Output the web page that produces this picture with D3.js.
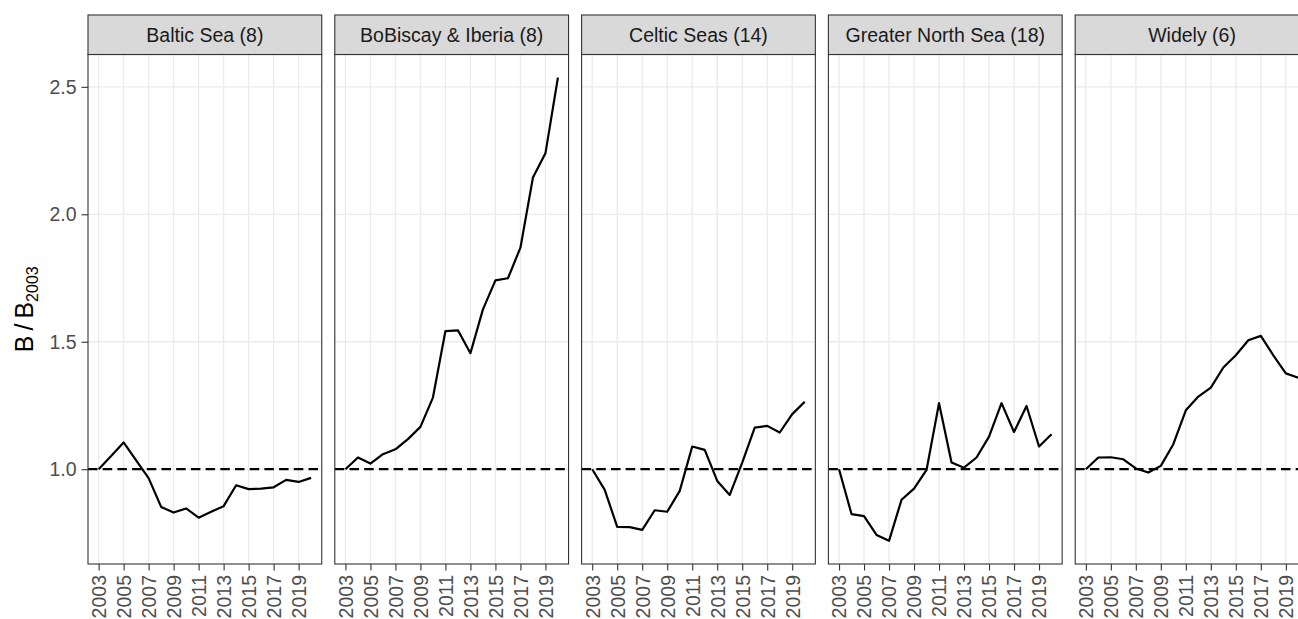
<!DOCTYPE html>
<html>
<head>
<meta charset="utf-8">
<script src="https://cdn.jsdelivr.net/npm/d3@7"></script>
<style>
  html, body { margin: 0; padding: 0; background: #ffffff; }
  svg { display: block; font-family: "Liberation Sans", Arial, Helvetica, sans-serif; }
</style>
</head>
<body>
<svg id="chart" width="1298" height="619"></svg>
<script>
// Biomass relative to 2003, by ecoregion
const years = [2003, 2004, 2005, 2006, 2007, 2008, 2009, 2010, 2011, 2012,
               2013, 2014, 2015, 2016, 2017, 2018, 2019, 2020];
const regions = ["Baltic Sea (8)", "BoBiscay & Iberia (8)", "Celtic Seas (14)",
                 "Greater North Sea (18)", "Widely (6)"];

const balticSea = [1.000, 1.052, 1.105, 1.035, 0.965, 0.852, 0.830, 0.846, 0.810,
                   0.833, 0.855, 0.937, 0.922, 0.924, 0.929, 0.958, 0.950, 0.966];
const boBiscayIberia = [1.000, 1.046, 1.022, 1.059, 1.078, 1.118, 1.166, 1.281, 1.542,
                        1.545, 1.455, 1.627, 1.741, 1.749, 1.869, 2.144, 2.239, 2.536];
const celticSeas = [1.000, 0.919, 0.774, 0.773, 0.762, 0.839, 0.833, 0.915, 1.089,
                    1.076, 0.954, 0.899, 1.026, 1.163, 1.170, 1.144, 1.216, 1.265];
const greaterNorthSea = [1.000, 0.824, 0.816, 0.742, 0.719, 0.880, 0.924, 0.997, 1.259,
                         1.026, 1.006, 1.046, 1.128, 1.259, 1.146, 1.248, 1.089, 1.137];
const widely = [1.000, 1.046, 1.047, 1.039, 1.003, 0.987, 1.013, 1.098, 1.231,
                1.285, 1.320, 1.399, 1.447, 1.506, 1.523, 1.447, 1.376, 1.359];

const seriesValues = [balticSea, boBiscayIberia, celticSeas, greaterNorthSea, widely];
const xTickYears = [2003, 2005, 2007, 2009, 2011, 2013, 2015, 2017, 2019];
const yTickValues = [1.0, 1.5, 2.0, 2.5];
const referenceLevel = 1.0;

// Layout of the facet grid
const panelLeft0 = 88, panelStride = 246.8, panelWidth = 233.75;
const stripTop = 15, panelTop = 54.5, panelBottom = 564;
const fontSize = 19.5;

const svg = d3.select("#chart");

// Shared y scale with 5% padding around the data range
const allVals = seriesValues.flat();
const yMin = d3.min(allVals), yMax = d3.max(allVals);
const yPad = (yMax - yMin) * 0.05;
const y = d3.scaleLinear()
  .domain([yMin - yPad, yMax + yPad])
  .range([panelBottom, panelTop]);

// x padding: 5% of the year span on each side
const xSpan = d3.max(years) - d3.min(years);
const xDomain = [d3.min(years) - xSpan * 0.05, d3.max(years) + xSpan * 0.05];

regions.forEach((name, i) => {
  const left = panelLeft0 + i * panelStride;
  const x = d3.scaleLinear().domain(xDomain).range([left, left + panelWidth]);
  const g = svg.append("g");

  // panel background
  g.append("rect")
    .attr("x", left).attr("y", panelTop)
    .attr("width", panelWidth).attr("height", panelBottom - panelTop)
    .attr("fill", "#ffffff");

  // major grid lines
  g.selectAll(".gx").data(xTickYears).join("line")
    .attr("x1", d => x(d)).attr("x2", d => x(d))
    .attr("y1", panelTop).attr("y2", panelBottom)
    .attr("stroke", "#EBEBEB").attr("stroke-width", 1.3);
  g.selectAll(".gy").data(yTickValues).join("line")
    .attr("x1", left).attr("x2", left + panelWidth)
    .attr("y1", d => y(d)).attr("y2", d => y(d))
    .attr("stroke", "#EBEBEB").attr("stroke-width", 1.3);

  // reference line at B/B2003 = 1
  g.append("line")
    .attr("x1", left).attr("x2", left + panelWidth)
    .attr("y1", y(referenceLevel)).attr("y2", y(referenceLevel))
    .attr("stroke", "#000000").attr("stroke-width", 2.2)
    .attr("stroke-dasharray", "9.5,5.2");

  // trend line
  const line = d3.line().x(d => x(d[0])).y(d => y(d[1]));
  g.append("path")
    .datum(years.map((yr, k) => [yr, seriesValues[i][k]]))
    .attr("d", line)
    .attr("fill", "none")
    .attr("stroke", "#000000")
    .attr("stroke-width", 2.2)
    .attr("stroke-linejoin", "round");

  // panel border
  g.append("rect")
    .attr("x", left).attr("y", panelTop)
    .attr("width", panelWidth).attr("height", panelBottom - panelTop)
    .attr("fill", "none").attr("stroke", "#333333").attr("stroke-width", 1.1);

  // strip
  g.append("rect")
    .attr("x", left).attr("y", stripTop)
    .attr("width", panelWidth).attr("height", panelTop - stripTop)
    .attr("fill", "#D9D9D9").attr("stroke", "#333333").attr("stroke-width", 1.1);
  g.append("text")
    .attr("x", left + panelWidth / 2).attr("y", 42)
    .attr("text-anchor", "middle")
    .attr("font-size", fontSize)
    .attr("fill", "#1A1A1A")
    .text(name);

  // x axis
  const xAxis = d3.axisBottom(x)
    .tickValues(xTickYears)
    .tickFormat(d3.format("d"))
    .tickSize(6.5)
    .tickPadding(4);
  const ax = g.append("g")
    .attr("transform", `translate(0,${panelBottom})`)
    .call(xAxis);
  ax.select(".domain").remove();
  ax.selectAll(".tick line").attr("stroke", "#333333").attr("stroke-width", 1.1);
  ax.selectAll(".tick text")
    .attr("fill", "#4D4D4D")
    .attr("font-size", fontSize)
    .attr("font-family", "Liberation Sans, Arial, sans-serif")
    .attr("text-anchor", "end")
    .attr("transform", "rotate(-90)")
    .attr("x", -11)
    .attr("y", 0)
    .attr("dy", "0.35em");

  // y axis on the first panel only
  if (i === 0) {
    const yAxis = d3.axisLeft(y)
      .tickValues(yTickValues)
      .tickFormat(d3.format(".1f"))
      .tickSize(6.5)
      .tickPadding(5);
    const ay = g.append("g")
      .attr("transform", `translate(${left},0)`)
      .call(yAxis);
    ay.select(".domain").remove();
    ay.selectAll(".tick line").attr("stroke", "#333333").attr("stroke-width", 1.1);
    ay.selectAll(".tick text")
      .attr("fill", "#4D4D4D")
      .attr("font-size", fontSize)
      .attr("font-family", "Liberation Sans, Arial, sans-serif");
  }
});

// y axis title: B/B with subscript 2003
const yTitle = svg.append("text")
  .attr("transform", `translate(33,${(panelTop + panelBottom) / 2}) rotate(-90)`)
  .attr("text-anchor", "middle")
  .attr("font-size", 25)
  .attr("fill", "#000000");
yTitle.append("tspan").text("B\u2009/\u2009B");
yTitle.append("tspan").attr("font-size", 16).attr("dy", 4.5).text("2003");
</script>
</body>
</html>
